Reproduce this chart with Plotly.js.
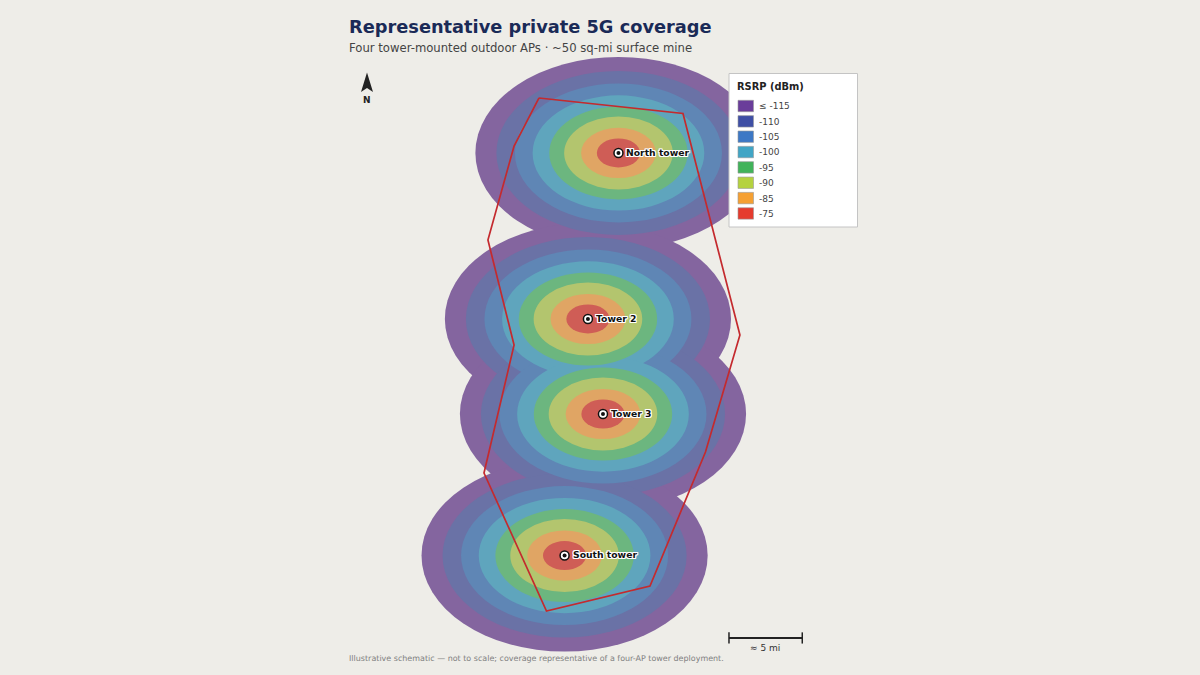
<!DOCTYPE html>
<html><head><meta charset="utf-8">
<script src="https://cdn.plot.ly/plotly-3.0.0.min.js"></script>
<style>html,body{margin:0;padding:0;background:#eeede8}#c{width:1200px;height:675px}</style>
</head><body><div id="c"></div>
<script>
const towerNames = ["North tower","Tower 2","Tower 3","South tower"];
const towerX = [42.36,40.27,41.30,38.67];
const towerY = [53.27,36.33,26.63,12.19];
const ringRadiiMi = [9.8,8.36,7.09,5.88,4.74,3.72,2.56,1.48];
const ringColors = ["#84659f","#6a72a6","#5f86b5","#5fa5bd","#6cb67f","#b3c56e","#e0a564","#cf5d56"];
const legendLabels = ["≤ -115","-110","-105","-100","-95","-90","-85","-75"];
const legendColors = ["#6a3d9a","#3f4fa5","#3d78c5","#41a5c5","#41b35a","#b5d23f","#f5a033","#e53b2e"];
const boundaryX = [36.92,46.78,50.68,48.32,44.52,37.43,33.15,35.21,33.42,35.21,36.92];
const boundaryY = [58.88,57.30,34.69,22.76,9.08,6.53,20.61,33.67,44.39,53.98,58.88];
const scaleBarX = [49.93,54.95];
const scaleBarY = [3.78,3.78];

const W=1200,H=675;
const px=x=>x/W, py=y=>1-y/H;
const shapes=[];
ringRadiiMi.forEach((r,i)=>{
  towerX.forEach((tx,t)=>{
    shapes.push({type:"circle",xref:"x",yref:"y",x0:tx-r,x1:tx+r,y0:towerY[t]-r,y1:towerY[t]+r,
      fillcolor:ringColors[i],line:{width:0},layer:"below"});
  });
});
shapes.push({type:"rect",xref:"paper",yref:"paper",x0:px(729),x1:px(857.5),y0:py(73.5),y1:py(227),
  fillcolor:"#ffffff",line:{color:"#c4c4c4",width:1},layer:"above"});
const annotations=[];
const txt=(x,y,t,size,color,extra)=>annotations.push(Object.assign({xref:"paper",yref:"paper",x:px(x),y:py(y),text:t,showarrow:false,
  xanchor:"left",yanchor:"middle",align:"left",font:{family:"DejaVu Sans",size:size,color:color}},extra||{}));
legendLabels.forEach((l,i)=>{
  const y=106+i*15.35;
  shapes.push({type:"rect",xref:"paper",yref:"paper",x0:px(738),x1:px(753.5),y0:py(y-5.7),y1:py(y+5.7),
    fillcolor:legendColors[i],line:{color:"#999999",width:0.6},layer:"above"});
  txt(757,y+0.4,l,9,"#444444");
});
txt(735,87,"<b>RSRP (dBm)</b>",9.85,"#222222");
txt(347,26.6,"<b>Representative private 5G coverage</b>",17.8,"#1a2a57");
txt(347,47.6,"Four tower-mounted outdoor APs · ~50 sq-mi surface mine",11.65,"#444444");
txt(347,658,"Illustrative schematic — not to scale; coverage representative of a four-AP tower deployment.",7.97,"#808080");
txt(765,648,"≈ 5 mi",9,"#333333",{xanchor:"center"});
txt(367,100,"<b>N</b>",9,"#222222",{xanchor:"center"});
shapes.push({type:"path",xref:"paper",yref:"paper",
  path:`M ${px(367)} ${py(72.5)} L ${px(373)} ${py(92)} L ${px(367)} ${py(88)} L ${px(361)} ${py(92)} Z`,
  fillcolor:"#222222",line:{width:0},layer:"above"});
towerNames.forEach((n,i)=>annotations.push({xref:"x",yref:"y",x:towerX[i],y:towerY[i],text:"<b>"+n+"</b>",showarrow:false,
  xanchor:"left",yanchor:"middle",xshift:6,yshift:0.7,
  font:{family:"DejaVu Sans",size:9.25,color:"#111111",shadow:"1px 1px 0 #fff,-1px -1px 0 #fff,1px -1px 0 #fff,-1px 1px 0 #fff,0 1px 0 #fff,0 -1px 0 #fff,1px 0 0 #fff,-1px 0 0 #fff"}}));

const traces=[
 {type:"scatter",mode:"lines",x:boundaryX,y:boundaryY,line:{color:"#c42a2e",width:1.7},hoverinfo:"skip",showlegend:false},
 {type:"scatter",mode:"lines+markers",x:scaleBarX,y:scaleBarY,line:{color:"#222222",width:2},
  marker:{symbol:"line-ns",size:8,line:{color:"#222222",width:1.5}},hoverinfo:"skip",showlegend:false},
 {type:"scatter",mode:"markers",x:towerX,y:towerY,
  marker:{size:9,color:"#ffffff",line:{color:"#111111",width:1.5}},hoverinfo:"skip",showlegend:false},
 {type:"scatter",mode:"markers",x:towerX,y:towerY,marker:{size:4,color:"#111111"},hoverinfo:"skip",showlegend:false}
];
Plotly.newPlot("c",traces,{
  width:W,height:H,margin:{l:0,r:0,t:0,b:0},paper_bgcolor:"#eeede8",plot_bgcolor:"#eeede8",
  xaxis:{range:[0,W/14.6],visible:false,fixedrange:true},
  yaxis:{range:[0,H/9.8],visible:false,fixedrange:true},
  shapes:shapes,annotations:annotations,showlegend:false
},{displayModeBar:false,staticPlot:true});
</script></body></html>
